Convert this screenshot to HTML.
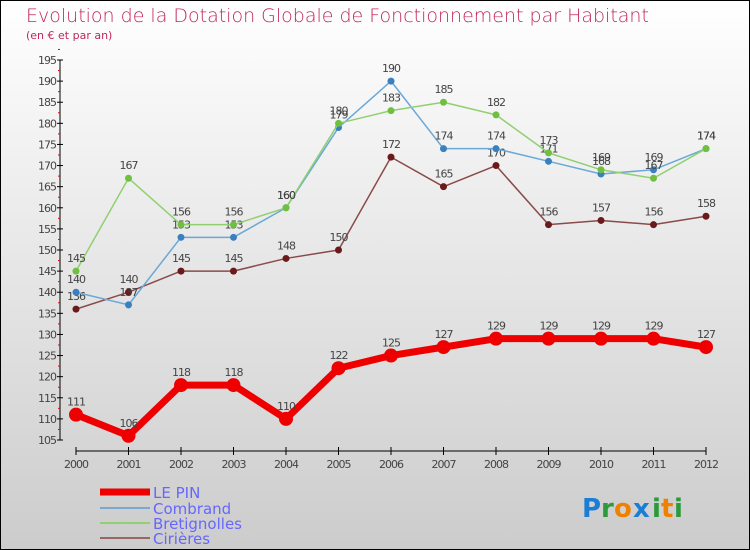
<!DOCTYPE html>
<html><head><meta charset="utf-8"><style>
body{margin:0;width:750px;height:550px;overflow:hidden;font-family:"DejaVu Sans","Liberation Sans",sans-serif}
svg{display:block}
</style></head><body>
<svg id="chart" width="750" height="550" xmlns="http://www.w3.org/2000/svg">
<defs><linearGradient id="bg" x1="0" y1="0" x2="0" y2="1"><stop offset="0" stop-color="#ffffff"/><stop offset="1" stop-color="#cccccc"/></linearGradient></defs>
<rect x="0.5" y="0.5" width="749" height="549" fill="url(#bg)" stroke="#000"/>
<text x="26" y="22" font-size="19" fill="#c0285a" style="font-weight:200">Evolution de la Dotation Globale de Fonctionnement par Habitant</text>
<text x="26" y="39" font-size="11" fill="#c0285a">(en € et par an)</text>
<g id="axes"></g>
<g id="series"></g>
<g>
<line x1="100" y1="492" x2="150" y2="492" stroke="#ee0000" stroke-width="7"/>
<text x="153" y="498" font-size="15" fill="#6666ff">LE PIN</text>
<line x1="100" y1="508" x2="150" y2="508" stroke="#7aa9d0" stroke-width="2"/>
<text x="153" y="514" font-size="15" fill="#6666ff">Combrand</text>
<line x1="100" y1="523" x2="150" y2="523" stroke="#90d070" stroke-width="2"/>
<text x="153" y="529" font-size="15" fill="#6666ff">Bretignolles</text>
<line x1="100" y1="538" x2="150" y2="538" stroke="#996666" stroke-width="2"/>
<text x="153" y="544" font-size="15" fill="#6666ff">Cirières</text>
</g>
<g font-size="26" font-weight="bold" font-family="'DejaVu Sans',sans-serif">
<text x="582" y="517" fill="#1a7fd4">P</text><text x="601" y="517" fill="#2a9a3a">r</text><text x="614" y="517" fill="#f08000">o</text><text x="633" y="517" fill="#1a7fd4">x</text><text x="652" y="517" fill="#2a9a3a">i</text><text x="661" y="517" fill="#f08000">t</text><text x="674" y="517" fill="#2a9a3a">i</text>
</g>
</svg>
<script>
const years=["2000","2001","2002","2003","2004","2005","2006","2007","2008","2009","2010","2011","2012"];
const yTicks=[105,110,115,120,125,130,135,140,145,150,155,160,165,170,175,180,185,190,195];
const lePin=[111,106,118,118,110,122,125,127,129,129,129,129,127];
const combrand=[140,137,153,153,160,179,190,174,174,171,168,169,174];
const bretignolles=[145,167,156,156,160,180,183,185,182,173,169,167,174];
const cirieres=[136,140,145,145,148,150,172,165,170,156,157,156,158];
const NS="http://www.w3.org/2000/svg";
const X=i=>76+i*52.5;
const Y=v=>440-(v-105)*(380/90);
function mk(tag,attrs,parent){const e=document.createElementNS(NS,tag);for(const k in attrs)e.setAttribute(k,attrs[k]);parent.appendChild(e);return e;}
const ax=document.getElementById('axes');
let yl=mk('line',{x1:60,y1:Y(195),x2:60,y2:Y(105),stroke:'#000'},ax);


yTicks.forEach(v=>{
 mk('line',{x1:57,y1:Y(v),x2:63,y2:Y(v),stroke:'#000'},ax);
 mk('line',{x1:58,y1:Y(v+2.5),x2:60,y2:Y(v+2.5),stroke:'#e00'},ax);
 const t=mk('text',{x:56,y:Y(v)+4,'font-size':11,fill:'#444','text-anchor':'end','letter-spacing':'-1'},ax);
 t.textContent=v;
 
 
});
let xl=mk('line',{x1:X(0),y1:451,x2:X(12),y2:451,stroke:'#000'},ax);


years.forEach((y,i)=>{
 mk('line',{x1:X(i),y1:447,x2:X(i),y2:455,stroke:'#000'},ax);
 const t=mk('text',{x:X(i),y:468,'font-size':11,fill:'#444','text-anchor':'middle','letter-spacing':'-1'},ax);
 t.textContent=y;
 
 
});
const sg=document.getElementById('series');
function series(data,color,dot,w,r,name){
 const g=mk('g',{},sg);
 
 
 mk('polyline',{points:data.map((v,i)=>X(i)+','+Y(v)).join(' '),fill:'none',stroke:color,'stroke-width':w,'stroke-linejoin':'round'},g);
 data.forEach((v,i)=>{
  const c=mk('circle',{cx:X(i),cy:Y(v),r:r,fill:dot},g);
  
  
  const t=mk('text',{x:X(i),y:Y(v)-9,'font-size':11,fill:'#444','text-anchor':'middle','letter-spacing':'-1'},g);
  t.textContent=v;
  
  
 });
}
series(cirieres,'#8a4a4a','#6a1a1a',1.5,3.5,'cirieres');
series(combrand,'#6aa8d8','#3a80c0',1.5,3.5,'combrand');
series(bretignolles,'#90d070','#70c040',1.5,3.5,'bretignolles');
series(lePin,'#ee0000','#ee0000',7,7,'le-pin');
</script>
</body></html>
